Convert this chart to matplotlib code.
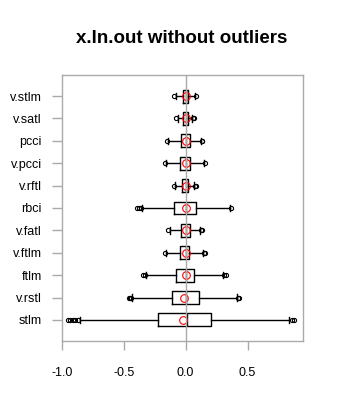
import matplotlib
matplotlib.use("Agg")
import matplotlib.pyplot as plt

plt.rcParams['font.family'] = ['Liberation Sans', 'DejaVu Sans']

# series, bottom to top
labels = ["stlm", "v.rstl", "ftlm", "v.ftlm", "v.fatl", "rbci",
          "v.rftl", "v.pcci", "pcci", "v.satl", "v.stlm"]
q1 = [-0.219, -0.106, -0.077, -0.042, -0.036, -0.090, -0.026, -0.042, -0.036, -0.020, -0.018]
med = [0.015, 0.004, 0.0, 0.0, 0.0, 0.0, 0.0, 0.0, 0.0, 0.0, 0.0]
q3 = [0.208, 0.106, 0.071, 0.031, 0.034, 0.087, 0.018, 0.039, 0.034, 0.018, 0.018]
whislo = [-0.851, -0.434, -0.319, -0.157, -0.125, -0.348, -0.082, -0.160, -0.144, -0.063, -0.079]
whishi = [0.837, 0.415, 0.300, 0.144, 0.120, 0.359, 0.071, 0.149, 0.125, 0.055, 0.074]
means = [-0.020, -0.015, 0.0, 0.0, 0.0, 0.0, 0.0, 0.0, 0.0, 0.0, 0.0]
fliers = [
    [-0.947, -0.93, -0.91, -0.89, -0.87, 0.86, 0.875],
    [-0.46, -0.45, -0.44, 0.42, 0.43],
    [-0.34, -0.33, 0.31, 0.324],
    [-0.168, 0.15, 0.155],
    [-0.139, 0.127, 0.132],
    [-0.39, -0.375, -0.36, 0.365],
    [-0.093, 0.077, 0.082],
    [-0.168, 0.155],
    [-0.152, 0.13, 0.135],
    [-0.074, 0.06, 0.065],
    [-0.09, 0.082],
]
xticks = [-1.0, -0.5, 0.0, 0.5]

stats = []
for i in range(len(labels)):
    stats.append(dict(label=labels[i], q1=q1[i], med=med[i], q3=q3[i],
                      whislo=whislo[i], whishi=whishi[i], fliers=fliers[i]))

positions = list(range(1, len(labels) + 1))
grey = '#aaaaaa'

fig = plt.figure(figsize=(3.44, 4.01), dpi=100)
ax = fig.add_axes([0.1794, 0.1496, 0.8817 - 0.1794, 0.813 - 0.1496])

lw = 1.0
ax.bxp(stats, positions=positions, vert=False, widths=0.58, capwidths=0.29,
       patch_artist=False,
       boxprops=dict(color='black', linewidth=lw),
       medianprops=dict(color='black', linewidth=lw),
       whiskerprops=dict(color='black', linewidth=lw),
       capprops=dict(color='black', linewidth=lw),
       flierprops=dict(marker='o', markersize=3, markerfacecolor='none',
                       markeredgecolor='black', markeredgewidth=0.8))

# group means
ax.plot(means, positions, 'o', markersize=5.5, markerfacecolor='none',
        markeredgecolor='red', markeredgewidth=0.8, zorder=4)
ax.axvline(0, color=grey, linewidth=1.0, zorder=5)

ax.set_xlim(-1.0, 0.95)
ax.set_ylim(0.06, len(labels) + 0.94)
ax.set_xticks(xticks)
ax.set_xticklabels(["%.1f" % v for v in xticks])
ax.set_yticks(positions)
ax.set_yticklabels(labels)

for s in ax.spines.values():
    s.set_color(grey)
    s.set_linewidth(1.0)
ax.tick_params(axis='x', length=6.5, width=1.0, color=grey, pad=12, labelsize=9)
ax.tick_params(axis='y', length=7.2, width=1.0, color=grey, pad=7, labelsize=9)

fig.text(0.528, 0.905, "x.ln.out without outliers", ha='center', va='center',
         fontsize=13.5, fontweight='bold')

fig.savefig("out.png", dpi=100)
